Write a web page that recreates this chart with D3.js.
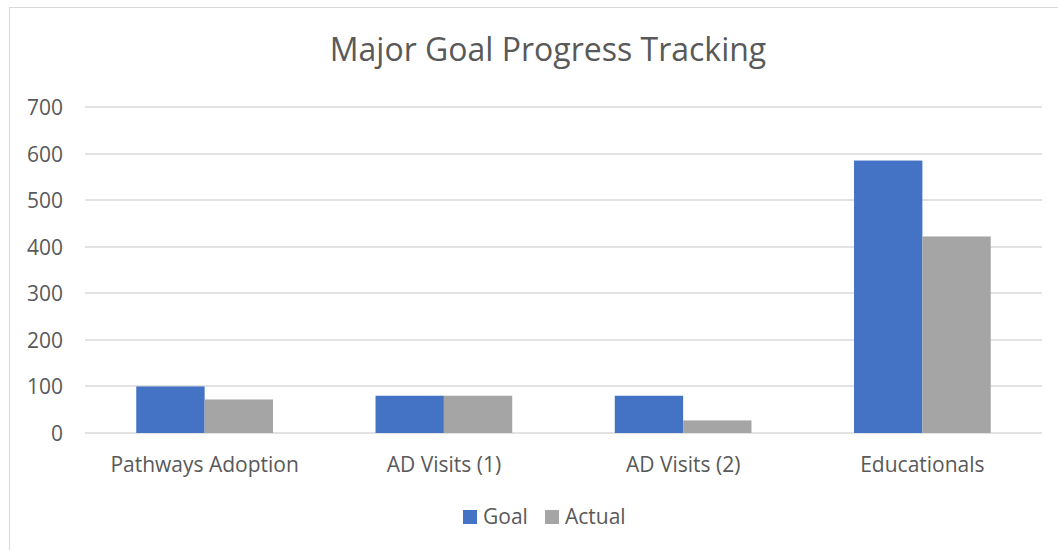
<!DOCTYPE html>
<html>
<head>
<meta charset="utf-8">
<title>Major Goal Progress Tracking</title>
<script src="https://d3js.org/d3.v7.min.js"></script>
<style>
  body { margin: 0; background: #fff; }
  text { font-family: 'Open Sans', 'Noto Sans', sans-serif; fill: #595959; }
</style>
</head>
<body>
<svg id="chart" width="1058" height="550"></svg>
<script>
// data
var categories = ['Pathways Adoption', 'AD Visits (1)', 'AD Visits (2)', 'Educationals'];
var seriesNames = ['Goal', 'Actual'];
var goalValues = [100, 80, 80, 585];
var actualValues = [72, 80, 27, 422];
var yTicks = [0, 100, 200, 300, 400, 500, 600, 700];
var colors = ['#4472C4', '#A5A5A5'];

var W = 1058, H = 550;
var plotLeft = 85, plotRight = 1042, plotTop = 107, plotBottom = 433;
var fontFamily = "'Open Sans', 'Noto Sans', sans-serif";

var svg = d3.select('#chart');

// outer chart frame
svg.append('rect')
  .attr('x', 9.5).attr('y', 7.5)
  .attr('width', W + 10).attr('height', H + 10)
  .attr('fill', 'none')
  .attr('stroke', '#d9d9d9');

svg.append('text')
  .attr('x', 548).attr('y', 61)
  .attr('text-anchor', 'middle')
  .attr('font-size', 32)
  .text('Major Goal Progress Tracking');

var x = d3.scaleBand().domain(categories).range([plotLeft, plotRight]);
var y = d3.scaleLinear().domain([0, 700]).range([plotBottom, plotTop]);

// group width is 4/7 of the category band (gap width 150%)
var x1 = d3.scaleBand().domain(seriesNames)
  .range([0, x.bandwidth() * 4 / 7]);
var offset = x.bandwidth() * 3 / 14;

// grid lines
svg.append('g')
  .selectAll('line')
  .data(yTicks)
  .join('line')
  .attr('x1', plotLeft).attr('x2', plotRight)
  .attr('y1', d => Math.round(y(d)))
  .attr('y2', d => Math.round(y(d)))
  .attr('stroke', '#d9d9d9')
  .attr('stroke-width', 1.5);

// y labels
var yAxis = d3.axisLeft(y).tickValues(yTicks).tickSize(0).tickPadding(0);
svg.append('g')
  .attr('transform', 'translate(63,0)')
  .call(yAxis)
  .call(g => g.select('.domain').remove())
  .call(g => g.selectAll('text')
    .attr('font-size', 21)
    .attr('dy', '0.36em')
    .attr('font-family', fontFamily)
    .attr('fill', '#595959'));

var rows = categories.map((c, i) => ({ cat: c, values: [goalValues[i], actualValues[i]] }));

svg.append('g')
  .selectAll('g')
  .data(rows)
  .join('g')
  .attr('transform', d => 'translate(' + (x(d.cat) + offset) + ',0)')
  .selectAll('rect')
  .data(d => d.values.map((v, i) => ({ key: seriesNames[i], value: v, i: i })))
  .join('rect')
  .attr('x', d => x1(d.key))
  .attr('y', d => y(d.value))
  .attr('width', x1.bandwidth())
  .attr('height', d => y(0) - y(d.value))
  .attr('fill', d => colors[d.i]);

// x labels
var xAxis = d3.axisBottom(x).tickSize(0).tickPadding(0);
svg.append('g')
  .attr('transform', 'translate(0,' + (plotBottom + 39) + ')')
  .call(xAxis)
  .call(g => g.select('.domain').remove())
  .call(g => g.selectAll('text')
    .attr('dy', 0)
    .attr('font-size', 21)
    .attr('font-family', fontFamily)
    .attr('fill', '#595959'));

// legend
var legendX = [463, 545];
var legend = svg.append('g')
  .selectAll('g')
  .data(seriesNames)
  .join('g')
  .attr('transform', (d, i) => 'translate(' + legendX[i] + ',510)');

legend.append('rect')
  .attr('width', 14).attr('height', 14)
  .attr('fill', (d, i) => colors[i]);

legend.append('text')
  .attr('x', 20).attr('y', 14)
  .attr('font-size', 21)
  .text(d => d);
</script>
</body>
</html>
